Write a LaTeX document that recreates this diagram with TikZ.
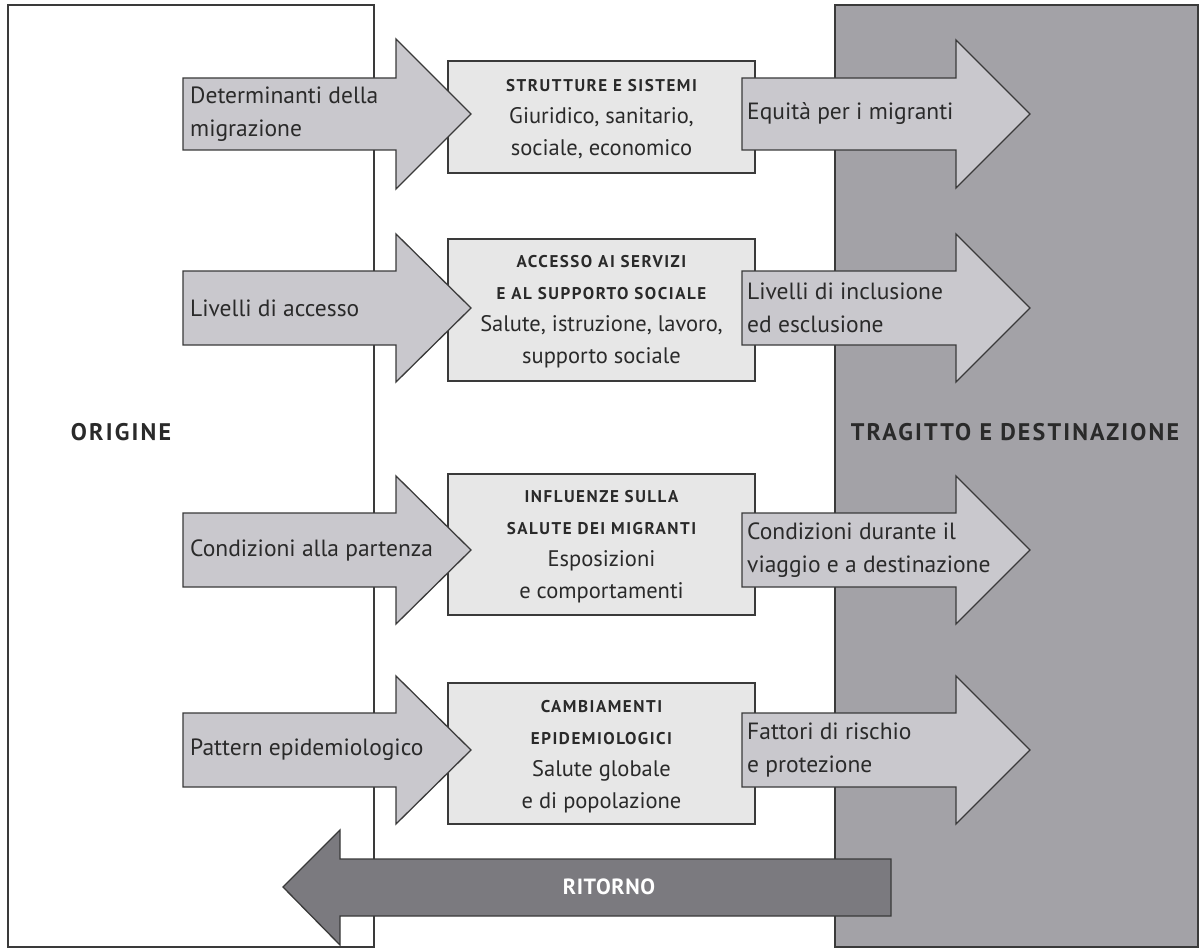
\documentclass[tikz,border=0pt]{standalone}
\usepackage{fontspec}
\setmainfont{PT Sans}
\newfontfamily\capsfont[LetterSpace=9]{PT Sans}
\newfontfamily\titlefont[LetterSpace=9]{PT Sans}
\newfontfamily\returnfont[LetterSpace=3]{PT Sans}
\definecolor{arrowfill}{HTML}{C9C8CD}
\definecolor{boxfill}{HTML}{E7E7E7}
\definecolor{panelfill}{HTML}{A3A2A7}
\definecolor{returnfill}{HTML}{7B7A7F}
\definecolor{linec}{HTML}{3A3A3A}
\definecolor{textc}{HTML}{2A2A2A}
% block arrow pointing right: body left, head base, tip, centre y, half body, half head
\newcommand{\rightblock}[6]{%
  \path[arrowshape] (#1,#4-#5) -- (#2,#4-#5) -- (#2,#4-#6) -- (#3,#4)
    -- (#2,#4+#6) -- (#2,#4+#5) -- (#1,#4+#5) -- cycle;}
\newcommand{\hdr}[1]{{\capsfont\bfseries\fontsize{17}{32}\selectfont #1}}
\begin{document}
\begin{tikzpicture}[x=1pt,y=-1pt,
  outline/.style={draw=linec, line width=1.3pt, line join=miter},
  panel/.style={outline, fill=#1},
  arrowshape/.style={outline, fill=arrowfill},
  returnshape/.style={outline, fill=returnfill},
  centerbox/.style={outline, fill=boxfill},
  label/.style={text=textc, font=\fontsize{23.5}{33}\selectfont, align=left, anchor=west, inner sep=0pt},
  boxtext/.style={text=textc, font=\fontsize{22.5}{32}\selectfont, align=center, inner sep=0pt},
  sidetitle/.style={text=textc, font=\titlefont\bfseries\fontsize{24}{28}\selectfont, inner sep=0pt},
  returntitle/.style={text=white, font=\returnfont\bfseries\fontsize{22}{26}\selectfont, inner sep=0pt}]
\useasboundingbox (0,0) rectangle (1202,952);

% the two side panels
\path[panel=white] (8,5) rectangle (374,947);
\path[panel=panelfill] (835,5) rectangle (1198,947);

% central boxes
\path[centerbox] (448,61) rectangle (755,173);
\path[centerbox] (448,239) rectangle (755,381);
\path[centerbox] (448,474) rectangle (755,615);
\path[centerbox] (448,683) rectangle (755,824);

% arrows from the origin side
\rightblock{183}{396}{471}{114}{36}{75}
\rightblock{183}{396}{471}{308}{37}{74}
\rightblock{183}{396}{471}{550}{37}{74}
\rightblock{183}{396}{471}{750}{37}{74}

% arrows towards the destination side
\rightblock{742}{956}{1030}{114}{36}{74}
\rightblock{742}{956}{1030}{308}{37}{74}
\rightblock{742}{956}{1030}{550}{37}{74}
\rightblock{742}{956}{1030}{750}{37}{74}

% return arrow
\path[returnshape] (891,859) -- (340,859) -- (340,830) -- (283,887)
  -- (340,945) -- (340,916) -- (891,916) -- cycle;

% labels on the left arrows
\node[label] (l1) at (190,114) {Determinanti della\\migrazione};
\node[label] (l2) at (190,308) {Livelli di accesso};
\node[label] (l3) at (190,550) {Condizioni alla partenza};
\node[label] (l4) at (190,750) {Pattern epidemiologico};

% labels on the right arrows
\node[label] (r1) at (747,114) {Equità per i migranti};
\node[label] (r2) at (747,308) {Livelli di inclusione\\ed esclusione};
\node[label] (r3) at (747,550) {Condizioni durante il\\viaggio e a destinazione};
\node[label] (r4) at (747,750) {Fattori di rischio\\e protezione};

% box contents
\node[boxtext] (b1) at (601.5,119) {\hdr{STRUTTURE E SISTEMI}\\Giuridico, sanitario,\\sociale, economico};
\node[boxtext] (b2) at (601.5,312) {\hdr{ACCESSO AI SERVIZI}\\\hdr{E AL SUPPORTO SOCIALE}\\Salute, istruzione, lavoro,\\supporto sociale};
\node[boxtext] (b3) at (601.5,547) {\hdr{INFLUENZE SULLA}\\\hdr{SALUTE DEI MIGRANTI}\\Esposizioni\\e comportamenti};
\node[boxtext] (b4) at (601.5,757) {\hdr{CAMBIAMENTI}\\\hdr{EPIDEMIOLOGICI}\\Salute globale\\e di popolazione};

% panel titles
\node[sidetitle] (origine) at (121,432) {ORIGINE};
\node[sidetitle] (destinazione) at (1015,432) {TRAGITTO E DESTINAZIONE};
\node[returntitle] (ritorno) at (609,887) {RITORNO};
\end{tikzpicture}
\end{document}
